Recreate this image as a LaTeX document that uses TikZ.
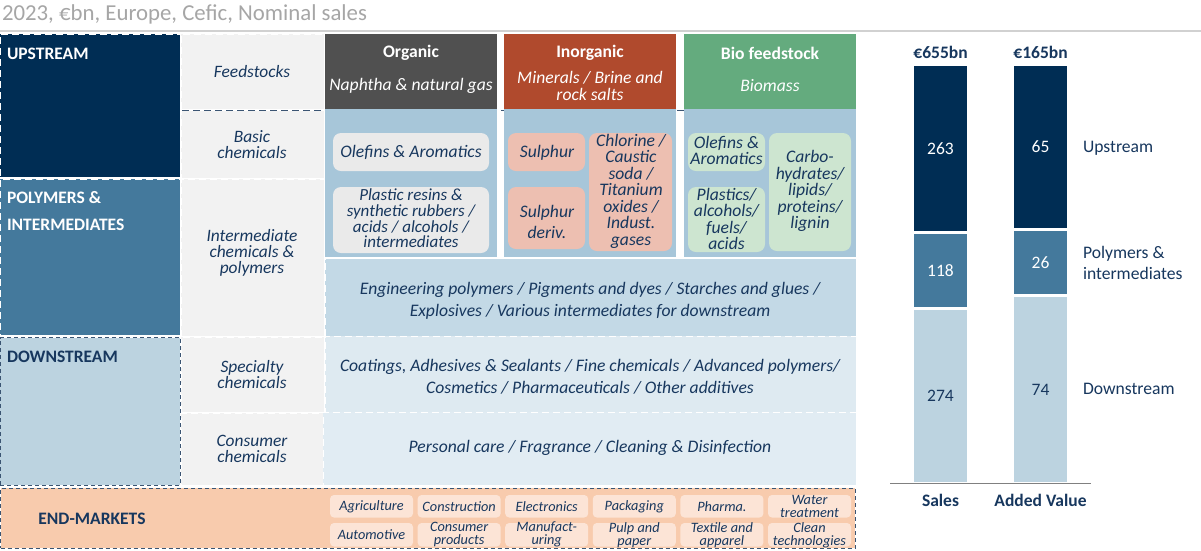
\documentclass[tikz,border=0pt]{standalone}
\usepackage{fontspec}
\setmainfont{Carlito}
\definecolor{navy}{HTML}{002D54}
\definecolor{txt}{HTML}{17375E}
\definecolor{poly}{HTML}{44799C}
\definecolor{down}{HTML}{BCD3E0}
\definecolor{cellgray}{HTML}{F2F2F2}
\definecolor{orghd}{HTML}{505050}
\definecolor{inohd}{HTML}{B04A2D}
\definecolor{biohd}{HTML}{64AB7E}
\definecolor{panel}{HTML}{A7C6D9}
\definecolor{engrow}{HTML}{C3D9E6}
\definecolor{specrow}{HTML}{DEEAF1}
\definecolor{consrow}{HTML}{E1ECF3}
\definecolor{endm}{HTML}{F8CBAD}
\definecolor{endchip}{HTML}{FCE4D6}
\definecolor{chipgray}{HTML}{EAEAEA}
\definecolor{chippink}{HTML}{EDBFB1}
\definecolor{chipgreen}{HTML}{CDE5D0}
\definecolor{titlegray}{HTML}{A6A6A6}
\definecolor{dashnavy}{HTML}{3B5573}
\newcommand\rbox[7]{%
 \pgfmathsetmacro\bw{#4-#2}\pgfmathsetmacro\bh{#5-#3}%
 \pgfmathsetmacro\bx{(#2+#4)/2}\pgfmathsetmacro\by{(#3+#5)/2}%
 \node[#6, minimum width=\bw pt, minimum height=\bh pt] (#1) at (\bx,\by) {#7};}
\tikzset{
 base/.style={inner sep=0pt, outer sep=0pt},
 wdash/.style={draw=white, line width=1pt, dash pattern=on 7pt off 4pt},
 ndash/.style={draw=dashnavy, line width=0.9pt, dash pattern=on 4pt off 3pt},
 lbl/.style={base, text=txt, align=center, font=\itshape\fontsize{17.4}{16}\selectfont},
 hdr/.style={base, text=white, font=\bfseries\fontsize{17.6}{18}\selectfont},
 hsub/.style={base, text=white, align=center, font=\itshape\fontsize{17.6}{17}\selectfont},
 chip/.style={base, rounded corners=8pt},
 ctext/.style={base, text=txt, align=center, font=\itshape\fontsize{17.6}{16.5}\selectfont},
 rowtext/.style={base, text=txt, align=center, font=\itshape\fontsize{17.6}{22}\selectfont},
 emchip/.style={base, fill=endchip, rounded corners=4pt},
 emtext/.style={base, text=txt, align=center, font=\itshape\fontsize{14.3}{13}\selectfont},
 big/.style={base, font=\bfseries\fontsize{17.5}{20}\selectfont},
 bar/.style={base, font=\fontsize{17.5}{18}\selectfont},
 barhd/.style={base, text=txt, font=\bfseries\fontsize{17.5}{18}\selectfont},
 side/.style={base, text=txt, align=left, font=\fontsize{17.6}{21}\selectfont},
}
\begin{document}
\begin{tikzpicture}[x=1pt, y=-1pt]
\useasboundingbox[fill=white] (0,0) rectangle (1201,550);
% title
\node[base, anchor=west, text=titlegray, font=\fontsize{22.8}{24}\selectfont] (title) at (2,14) {2023, €bn, Europe, Cefic, Nominal sales};
\draw[black!18, line width=2pt] (0,31) -- (1201,31);
% left column
\rbox{up}{0}{34}{180}{177}{base, fill=navy, wdash}{}
\rbox{pol}{0}{179}{180}{335}{base, fill=poly, wdash}{}
\rbox{dn}{0}{337.5}{180}{485}{base, fill=down, ndash}{}
\node[big, text=white, anchor=base west] (uplbl) at (7,59) {UPSTREAM};
\node[big, text=white, anchor=base west] (pollbl) at (7,203) {POLYMERS \&};
\node[big, text=white, anchor=base west] (pollbl2) at (7,230) {INTERMEDIATES};
\node[big, text=txt, anchor=base west] (dnlbl) at (7,362) {DOWNSTREAM};
% second column
\rbox{feed}{181}{34}{324}{109}{base, fill=cellgray, wdash}{}
\rbox{basic}{181}{110}{324}{178}{base, fill=cellgray, wdash}{}
\rbox{inter}{181}{179}{324}{336}{base, fill=cellgray, wdash}{}
\rbox{spec}{181}{337}{324}{412}{base, fill=cellgray, wdash}{}
\rbox{cons}{181}{413}{324}{485}{base, fill=cellgray, wdash}{}
\draw[dashnavy, line width=1pt, dash pattern=on 7pt off 4pt] (182,110) -- (856,110);
\node[lbl] (feedl) at (252,72) {Feedstocks};
\node[lbl] (basicl) at (252,145) {Basic\\chemicals};
\node[lbl] (interl) at (252,253) {Intermediate\\chemicals \&\\polymers};
\node[lbl] (specl) at (252,375) {Specialty\\chemicals};
\node[lbl] (consl) at (252,449) {Consumer\\chemicals};
% headers
\rbox{org}{325}{34}{497}{109}{base, fill=orghd}{}
\rbox{ino}{504}{34}{676}{109}{base, fill=inohd}{}
\rbox{bio}{684}{34}{856}{109}{base, fill=biohd}{}
\node[hdr] (orgt) at (411,53) {Organic};
\node[hsub] (orgs) at (411,86) {Naphtha \& natural gas};
\node[hdr] (inot) at (590,53) {Inorganic};
\node[hsub] (inos) at (590,85.5) {Minerals / Brine and\\rock salts};
\node[hdr] (biot) at (770,53) {Bio feedstock};
\node[hsub] (bios) at (770,86) {Biomass};
% panels
\rbox{orgp}{325}{109}{497}{257}{base, fill=panel}{}
\rbox{inop}{504}{109}{676}{257}{base, fill=panel}{}
\rbox{biop}{684}{109}{856}{257}{base, fill=panel}{}
\rbox{oc1}{333}{133}{489}{171}{chip, fill=chipgray}{}
\rbox{oc2}{333}{187}{489}{253}{chip, fill=chipgray}{}
\rbox{ic1}{508}{133}{585}{171}{chip, fill=chippink}{}
\rbox{ic2}{508}{187}{585}{249}{chip, fill=chippink}{}
\rbox{ic3}{589}{133}{672}{251}{chip, fill=chippink}{}
\rbox{bc1}{688}{133}{765}{171}{chip, fill=chipgreen}{}
\rbox{bc2}{688}{187}{765}{252}{chip, fill=chipgreen}{}
\rbox{bc3}{769}{133}{851}{251}{chip, fill=chipgreen}{}
\node[ctext] (oc1t) at (411,152) {Olefins \& Aromatics};
\node[ctext, font=\itshape\fontsize{17}{15.6}\selectfont] (oc2t) at (411,218.5) {Plastic resins \&\\synthetic rubbers /\\acids / alcohols /\\intermediates};
\node[ctext] (ic1t) at (547,152.5) {Sulphur};
\node[ctext, font=\itshape\fontsize{17.6}{21}\selectfont] (ic2t) at (547,221.5) {Sulphur\\deriv.};
\node[ctext] (ic3t) at (631,191.3) {Chlorine /\\Caustic\\soda /\\Titanium\\oxides /\\Indust.\\gases};
\node[ctext] (bc1t) at (726.5,150.5) {Olefins \&\\Aromatics};
\node[ctext] (bc2t) at (726.5,218.8) {Plastics/\\alcohols/\\fuels/\\acids};
\node[ctext] (bc3t) at (810,191.3) {Carbo-\\hydrates/\\lipids/\\proteins/\\lignin};
% rows
\rbox{eng}{325}{258.5}{856}{336}{base, fill=engrow, wdash}{}
\rbox{specr}{325}{336}{856}{412}{base, fill=specrow, wdash}{}
\rbox{consr}{323}{412}{856}{485}{base, fill=consrow, wdash}{}
\node[rowtext] (engt) at (590,300.5) {Engineering polymers / Pigments and dyes / Starches and glues /\\Explosives / Various intermediates for downstream};
\node[rowtext] (spect) at (590,377.2) {Coatings, Adhesives \& Sealants / Fine chemicals / Advanced polymers/\\Cosmetics / Pharmaceuticals / Other additives};
\node[rowtext] (const) at (590,448.3) {Personal care / Fragrance / Cleaning \& Disinfection};
% end markets
\rbox{em}{0.5}{488}{855}{548}{base, fill=endm, ndash}{}
\node[big, text=txt] (emt) at (92,519) {END-MARKETS};
\foreach \i/\a/\b in {0/Agriculture/Automotive, 1/Construction/Consumer\\products, 2/Electronics/Manufact-\\uring, 3/Packaging/Pulp and\\paper, 4/Pharma./Textile and\\apparel, 5/Water\\treatment/Clean\\technologies}{
 \pgfmathsetmacro\xa{330+87.6*\i}\pgfmathsetmacro\xb{\xa+83}
 \rbox{ema\i}{\xa}{495}{\xb}{517.5}{emchip}{}
 \rbox{emb\i}{\xa}{523}{\xb}{546.5}{emchip}{}
 \node[emtext] (emat\i) at (ema\i.center) {\a};
 \node[emtext] (embt\i) at (emb\i.center) {\b};
}
% bars
\rbox{su}{914}{66}{967}{231}{bar, fill=navy, text=white}{263}
\rbox{sp}{914}{234}{967}{307}{bar, fill=poly, text=white}{118}
\rbox{sd}{914}{310}{967}{482}{bar, fill=down, text=txt}{274}
\rbox{au}{1014}{66}{1067}{228}{bar, fill=navy, text=white}{65}
\rbox{ap}{1014}{231}{1067}{294}{bar, fill=poly, text=white}{26}
\rbox{ad}{1014}{297}{1067}{482}{bar, fill=down, text=txt}{74}
\draw[black!50, line width=1pt] (890,483.5) -- (1091,483.5);
\node[barhd] (sh) at (940.5,52) {€655bn};
\node[barhd] (ah) at (1040.5,52) {€165bn};
\node[barhd] (sl) at (940.5,500) {Sales};
\node[barhd] (al) at (1040.5,500) {Added Value};
\node[side, anchor=west] (ul) at (1083,148) {Upstream};
\node[side, anchor=west] (pl) at (1083,262.5) {Polymers \&\\intermediates};
\node[side, anchor=west] (dl) at (1083,389) {Downstream};
\end{tikzpicture}
\end{document}
